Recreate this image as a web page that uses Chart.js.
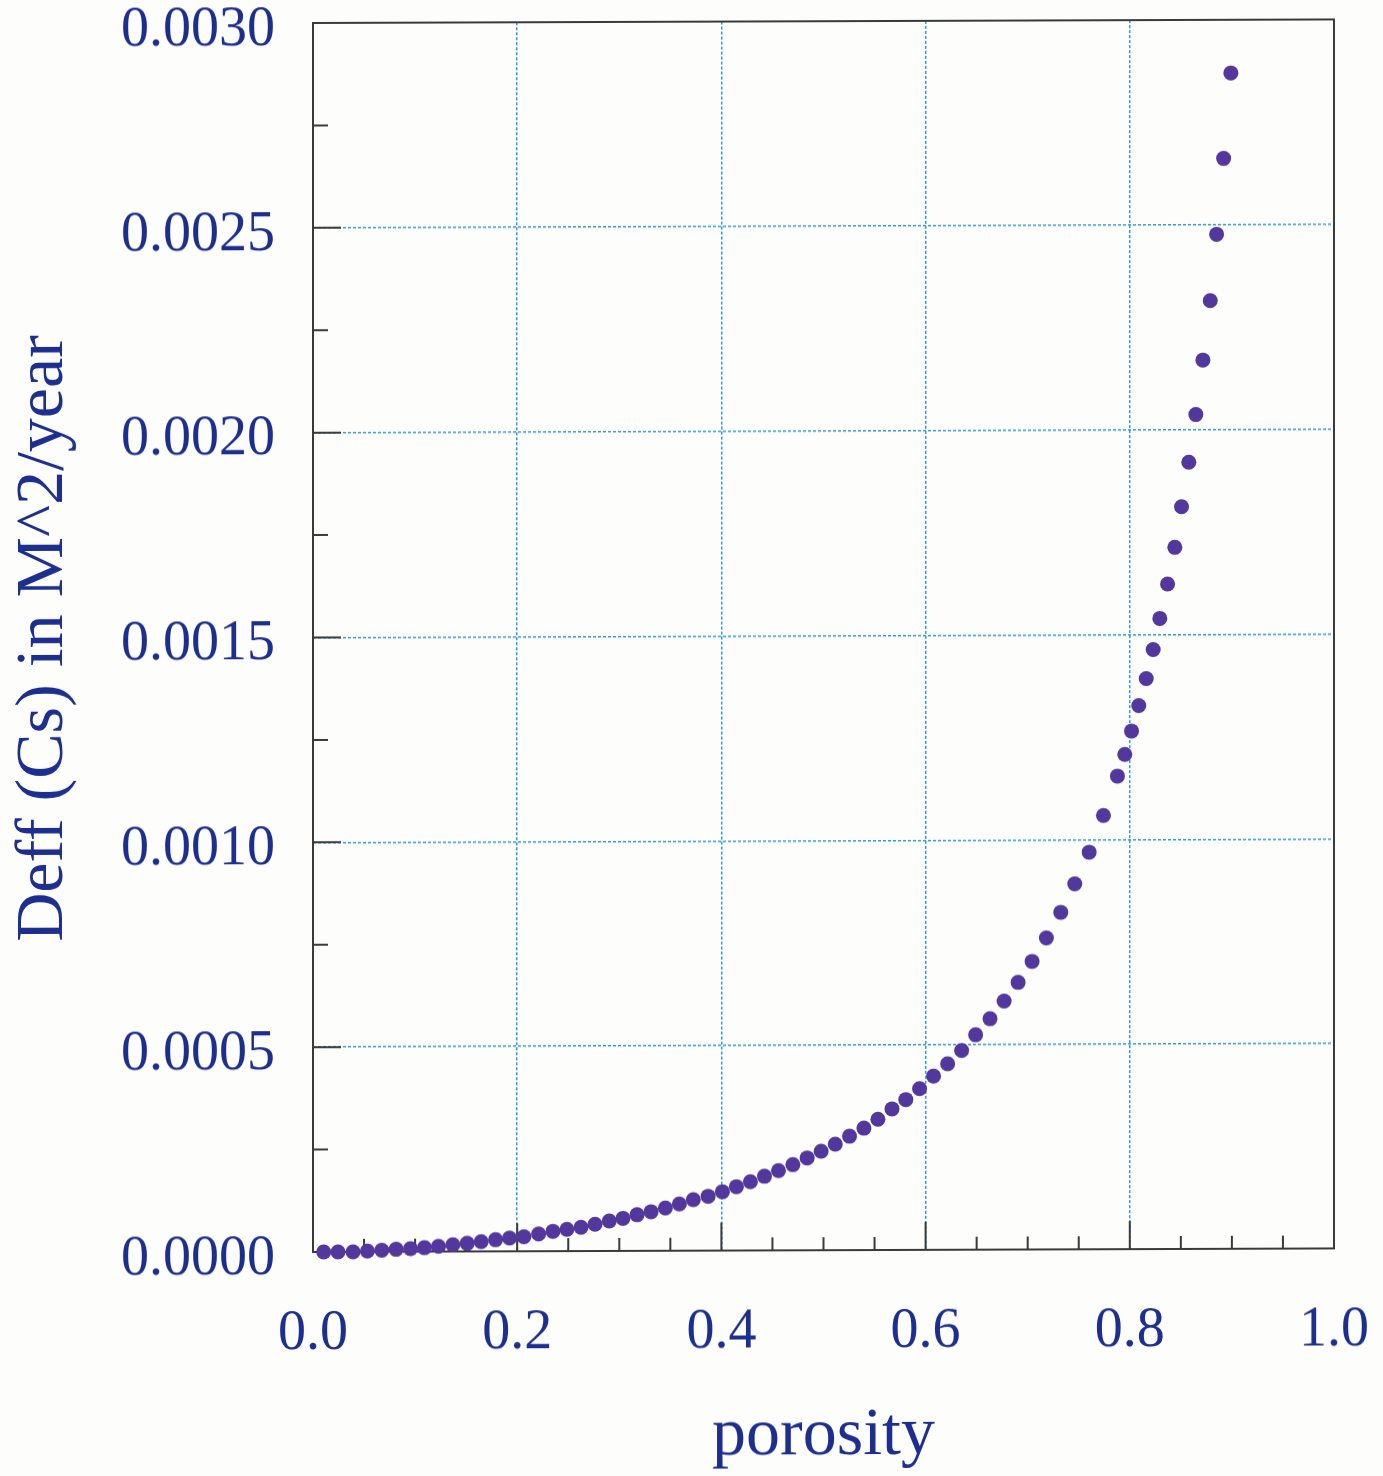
<!DOCTYPE html>
<html>
<head>
<meta charset="utf-8">
<title>Deff (Cs) vs porosity</title>
<script src="https://cdn.jsdelivr.net/npm/chart.js@4.4.1/dist/chart.umd.min.js"></script>
<style>
  html, body { margin: 0; padding: 0; background: #fdfdfb; }
  #wrap { width: 1383px; height: 1476px; position: relative; }
  #chart { transform: skewY(-0.2deg); transform-origin: 313px 1252px; }
</style>
</head>
<body>
<div id="wrap"><canvas id="chart"></canvas></div>
<script>
// Données : porosité et Deff (Cs) en M^2/year
const porosity = [
  0.0105, 0.0245, 0.0392, 0.0533, 0.0674, 0.0814, 0.0955, 0.1092, 0.1229, 0.1370,
  0.1510, 0.1647, 0.1788, 0.1925, 0.2066, 0.2210, 0.2350, 0.2487, 0.2625, 0.2762,
  0.2902, 0.3036, 0.3174, 0.3311, 0.3451, 0.3588, 0.3725, 0.3870, 0.4010, 0.4147,
  0.4284, 0.4422, 0.4559, 0.4700, 0.4840, 0.4977, 0.5115, 0.5255, 0.5396, 0.5533,
  0.5671, 0.5806, 0.5941, 0.6078, 0.6216, 0.6353, 0.6490, 0.6631, 0.6769, 0.6906,
  0.7043, 0.7183, 0.7324, 0.7461, 0.7602, 0.7742, 0.7879, 0.7951, 0.8017, 0.8088,
  0.8161, 0.8229, 0.8294, 0.8370, 0.8441, 0.8507, 0.8578, 0.8647, 0.8716, 0.8788,
  0.8850, 0.8919, 0.8990
];

const deff = [
  0, 0, 0, 0.0000020, 0.0000035, 0.0000058, 0.0000072, 0.0000095, 0.0000128, 0.0000166,
  0.0000199, 0.0000237, 0.0000284, 0.0000324, 0.0000355, 0.0000420, 0.0000484, 0.0000532, 0.0000580, 0.0000652,
  0.0000731, 0.0000796, 0.0000883, 0.0000955, 0.0001044, 0.0001140, 0.0001244, 0.0001326, 0.0001437, 0.0001558,
  0.0001679, 0.0001810, 0.0001946, 0.0002091, 0.0002254, 0.0002416, 0.0002586, 0.0002780, 0.0002975, 0.0003193,
  0.0003444, 0.0003670, 0.0003935, 0.0004242, 0.0004539, 0.0004863, 0.0005246, 0.0005636, 0.0006067, 0.0006521,
  0.0007033, 0.0007604, 0.0008228, 0.0008921, 0.0009693, 0.0010589, 0.0011548, 0.0012078, 0.0012647, 0.0013268,
  0.0013927, 0.0014635, 0.0015393, 0.0016231, 0.0017127, 0.0018120, 0.0019204, 0.0020368, 0.0021697, 0.0023146,
  0.0024767, 0.0026617, 0.0028702
];

// Graduations intérieures (grandes et petites)
const xMajorTicks = [0.2, 0.4, 0.6, 0.8];
const xMinorTicks = [0.05, 0.1, 0.15, 0.25, 0.3, 0.35, 0.45, 0.5, 0.55, 0.65, 0.7, 0.75, 0.85, 0.9, 0.95];
const yMajorTicks = [0.0005, 0.0010, 0.0015, 0.0020, 0.0025];
const yMinorTicks = [0.00025, 0.00075, 0.00125, 0.00175, 0.00225, 0.00275];

const textColor = '#1c2e8e';
const frameColor = '#3a3a3a';
const serif = "'Liberation Serif', 'DejaVu Serif', serif";

var points = porosity.map(function(p, i) {
  return { x: p, y: deff[i] };
});

// Cadre + graduations vers l'intérieur, dessinés avant les points
const frameTicks = {
  id: 'frameTicks',
  beforeDatasetsDraw(chart) {
    const ctx = chart.ctx;
    const a = chart.chartArea;
    const xs = chart.scales.x;
    const ys = chart.scales.y;
    ctx.save();
    ctx.strokeStyle = frameColor;
    ctx.lineWidth = 2;
    ctx.strokeRect(a.left, a.top, a.right - a.left, a.bottom - a.top);
    ctx.beginPath();
    xMajorTicks.forEach(v => { let px = xs.getPixelForValue(v); ctx.moveTo(px, a.bottom); ctx.lineTo(px, a.bottom - 28); });
    xMinorTicks.forEach(v => { let px = xs.getPixelForValue(v); ctx.moveTo(px, a.bottom); ctx.lineTo(px, a.bottom - 13); });
    yMajorTicks.forEach(v => { let py = ys.getPixelForValue(v); ctx.moveTo(a.left, py); ctx.lineTo(a.left + 28, py); });
    yMinorTicks.forEach(v => { let py = ys.getPixelForValue(v); ctx.moveTo(a.left, py); ctx.lineTo(a.left + 15, py); });
    ctx.stroke();
    ctx.restore();
  }
};

var ctx = document.getElementById('chart').getContext('2d');
var myChart = new Chart(ctx, {
  type: 'scatter',
  data: {
    datasets: [{
      data: points,
      pointRadius: 7.5,
      pointHoverRadius: 7.5,
      pointBackgroundColor: '#52379c',
      pointBorderWidth: 0,
      showLine: false,
      clip: false
    }]
  },
  options: {
    responsive: true,
    maintainAspectRatio: false,
    animation: false,
    layout: { padding: { top: 23, right: 49, left: 0, bottom: 0 } },
    plugins: { legend: { display: false }, tooltip: { enabled: false } },
    scales: {
      x: {
        type: 'linear',
        min: 0,
        max: 1,
        ticks: {
          stepSize: 0.2,
          padding: 49,
          color: textColor,
          font: { family: serif, size: 56 },
          callback: v => v.toFixed(1)
        },
        grid: { color: '#2f9ce0', lineWidth: 1.5, drawTicks: false },
        border: { display: false, dash: [3, 2] },
        title: {
          display: true,
          text: 'porosity',
          color: textColor,
          font: { family: serif, size: 68, lineHeight: 1.05 },
          padding: { top: 0, bottom: 2 }
        },
        afterFit: function(scale) {
          scale.height = 224;
          scale.paddingLeft = 0;
          scale.paddingRight = 0;
        }
      },
      y: {
        type: 'linear',
        min: 0,
        max: 0.003,
        ticks: {
          stepSize: 0.0005,
          padding: 38,
          labelOffset: 7,
          color: textColor,
          font: { family: serif, size: 56 },
          callback: v => v.toFixed(4)
        },
        grid: { color: '#2f9ce0', lineWidth: 1.5, drawTicks: false },
        border: { display: false, dash: [3, 2] },
        title: {
          display: true,
          text: 'Deff (Cs) in M^2/year',
          color: textColor,
          font: { family: serif, size: 68 },
          padding: { top: 3, bottom: 0 }
        },
        afterFit: function(scale) {
          scale.width = 313;
          scale.paddingTop = 0;
          scale.paddingBottom = 0;
        }
      }
    }
  },
  plugins: [frameTicks]
});
</script>
</body>
</html>
